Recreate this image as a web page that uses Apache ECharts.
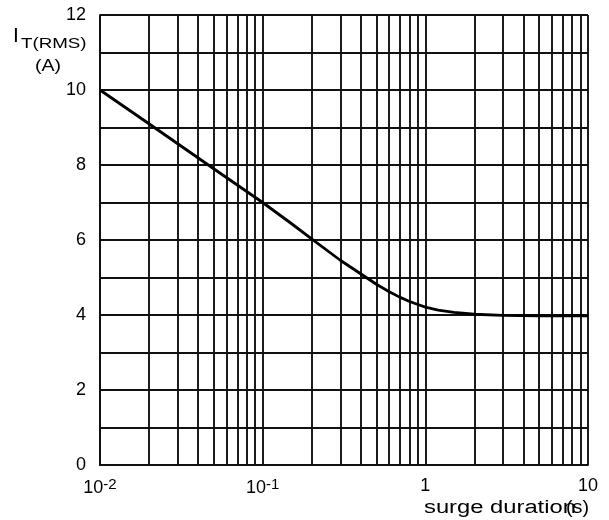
<!DOCTYPE html>
<html>
<head>
<meta charset="utf-8">
<style>
  html, body { margin: 0; padding: 0; background: #fff; }
  #chart { width: 609px; height: 520px; }
</style>
<script src="https://cdn.jsdelivr.net/npm/echarts@6/dist/echarts.min.js"></script>
</head>
<body>
<div id="chart"></div>
<script>
// Surge duration (s) and the matching RMS on-state current (A)
var surgeDuration = [0.01, 0.02, 0.05, 0.1, 0.15, 0.2, 0.3, 0.4, 0.5, 0.6, 0.7, 0.8, 0.9, 1, 1.2, 1.5, 2, 3, 5, 10];
var currentRms    = [10, 9.1, 7.9, 7.0, 6.44, 6.03, 5.46, 5.1, 4.82, 4.62, 4.47, 4.36, 4.28, 4.21, 4.13, 4.07, 4.02, 3.99, 3.98, 3.98];

// Vertical grid lines of the log paper (1..9 in every decade)
var logGridValues = [0.01, 0.02, 0.03, 0.04, 0.05, 0.06, 0.07, 0.08, 0.09,
                     0.1, 0.2, 0.3, 0.4, 0.5, 0.6, 0.7, 0.8, 0.9,
                     1, 2, 3, 4, 5, 6, 7, 8, 9, 10];

// Decade tick labels: [mantissa text, exponent text]
var xTickLabels = { '-2': ['10', '-2'], '-1': ['10', '-1'], '0': ['1', ''], '1': ['10', ''] };
var yTickLabels = [0, 2, 4, 6, 8, 10, 12];

var GRID_COLOR = '#111';
var GRID_WIDTH = 1.9;
var FONT = '"Liberation Sans", Arial, sans-serif';

var chart = echarts.init(document.getElementById('chart'), null, { renderer: 'canvas' });

var pairs = surgeDuration.map(function (x, i) { return [x, currentRms[i]]; });

chart.setOption({
  animation: false,
  backgroundColor: '#fff',
  grid: { left: 100, right: 21, top: 15, bottom: 55, containLabel: false },
  xAxis: {
    type: 'log',
    logBase: 10,
    min: 0.01,
    max: 10,
    axisLine: { show: true, lineStyle: { color: GRID_COLOR, width: GRID_WIDTH } },
    axisTick: { show: false },
    splitLine: { show: false },
    axisLabel: {
      margin: 12,
      color: '#000',
      fontFamily: FONT,
      fontSize: 18,
      formatter: function (v) {
        var e = String(Math.round(Math.log10(v)));
        var t = xTickLabels[e];
        if (!t) return '';
        return t[1] ? '{b|' + t[0] + '}{sup|' + t[1] + '}' : '{b|' + t[0] + '}';
      },
      rich: {
        b: { fontSize: 18, fontFamily: FONT, color: '#000' },
        sup: { fontSize: 15, fontFamily: FONT, color: '#000', verticalAlign: 'top', padding: [0, 0, 8, 0] }
      }
    }
  },
  yAxis: {
    type: 'value',
    min: 0,
    max: 12,
    interval: 1,
    axisLine: { show: true, lineStyle: { color: GRID_COLOR, width: GRID_WIDTH } },
    axisTick: { show: false },
    splitLine: { show: true, lineStyle: { color: GRID_COLOR, width: GRID_WIDTH } },
    axisLabel: {
      margin: 14,
      color: '#000',
      fontFamily: FONT,
      fontSize: 18,
      formatter: function (v) { return yTickLabels.indexOf(v) >= 0 ? String(v) : ''; }
    }
  },
  series: [
    {
      // log-paper verticals
      type: 'line',
      data: [],
      silent: true,
      z: 1,
      markLine: {
        silent: true,
        symbol: ['none', 'none'],
        label: { show: false },
        lineStyle: { color: GRID_COLOR, width: GRID_WIDTH, type: 'solid' },
        data: logGridValues.map(function (v) { return { xAxis: v }; })
      }
    },
    {
      type: 'line',
      data: pairs,
      smooth: false,
      showSymbol: false,
      z: 5,
      lineStyle: { color: '#000', width: 2.8, join: 'round' }
    }
  ],
  graphic: [
    { type: 'text', x: 13, y: 26, style: { text: 'I', font: '21px ' + FONT, fill: '#000' } },
    { type: 'text', x: 21, y: 36, scaleX: 1.25, style: { text: 'T(RMS)', font: '15px ' + FONT, fill: '#000' } },
    { type: 'text', x: 35, y: 58, scaleX: 1.15, style: { text: '(A)', font: '17px ' + FONT, fill: '#000' } },
    { type: 'text', x: 424, y: 499, scaleX: 1.32, style: { text: 'surge duration', font: '18px ' + FONT, fill: '#000' } },
    { type: 'text', x: 566, y: 499, scaleX: 1.1, style: { text: '(s)', font: '18px ' + FONT, fill: '#000' } }
  ]
});
</script>
</body>
</html>
